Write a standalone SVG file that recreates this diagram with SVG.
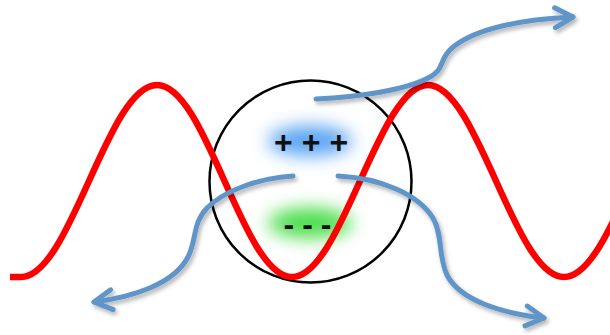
<svg xmlns="http://www.w3.org/2000/svg" width="610" height="335" viewBox="0 0 610 335">
  <defs>
    <style>
      .wave { fill: none; stroke: #ff0000; stroke-width: 6.5; stroke-linecap: butt; }
      .ring { fill: none; stroke: #000000; stroke-width: 2.5; }
      .flow { fill: none; stroke: #5f95c8; stroke-width: 5; stroke-linecap: round; stroke-linejoin: round; }
      .sign { font-family: "Liberation Sans", Arial, sans-serif; font-weight: bold; font-size: 32px; fill: #111111; }
    </style>
    <filter id="glow" x="-80%" y="-200%" width="260%" height="500%">
      <feGaussianBlur stdDeviation="9"/>
    </filter>
    <filter id="shadow" x="-20%" y="-20%" width="140%" height="140%">
      <feDropShadow dx="2" dy="3" stdDeviation="2" flood-color="#000000" flood-opacity="0.3"/>
    </filter>
    <marker id="chevron" markerUnits="userSpaceOnUse" markerWidth="40" markerHeight="40" refX="0" refY="0" viewBox="-30 -20 40 40" orient="auto" overflow="visible">
      <path d="M-18,-10 L0,0 L-18,10" fill="none" stroke="#5f95c8" stroke-width="5" stroke-linecap="round" stroke-linejoin="round"/>
    </marker>
  </defs>

  <!-- particle: outline with positive and negative charge clouds -->
  <g id="particle">
    <ellipse cx="310" cy="141" rx="42" ry="15" fill="#4f9ef2" opacity="0.95" filter="url(#glow)"/>
    <ellipse cx="310" cy="223" rx="42" ry="15" fill="#40dc40" opacity="0.95" filter="url(#glow)"/>
    <circle class="ring" cx="310.5" cy="181.5" r="101"/>
    <text class="sign" x="274" y="153" letter-spacing="9">+++</text>
    <text class="sign" x="283.5" y="235" letter-spacing="8">---</text>
  </g>

  <!-- field wave -->
  <g id="wave">
    <path class="wave" d="M10,277 L21,277 C70.5,277 107.5,85 157,85 C206.5,85 242.5,277 292,277 C341.5,277 378.5,85 428,85 C477.5,85 514.5,277 564,277 C613.5,277 650.5,85 700,85"/>
  </g>

  <!-- scattered flow arrows -->
  <g id="connectors" filter="url(#shadow)">
    <path class="flow" marker-end="url(#chevron)" d="M316,99 C360,97 405,90 428,78 C446,69 438,60 452,48 C475,28 525,19 573,17"/>
    <path class="flow" marker-end="url(#chevron)" d="M293,176 C260,178 225,190 207,208 C192,224 197,240 188,257 C174,284 133,297 94,302"/>
    <path class="flow" marker-end="url(#chevron)" d="M338,176 C380,178 418,194 433,218 C443,235 438,256 447,275 C460,300 500,313 544,318"/>
  </g>
</svg>
